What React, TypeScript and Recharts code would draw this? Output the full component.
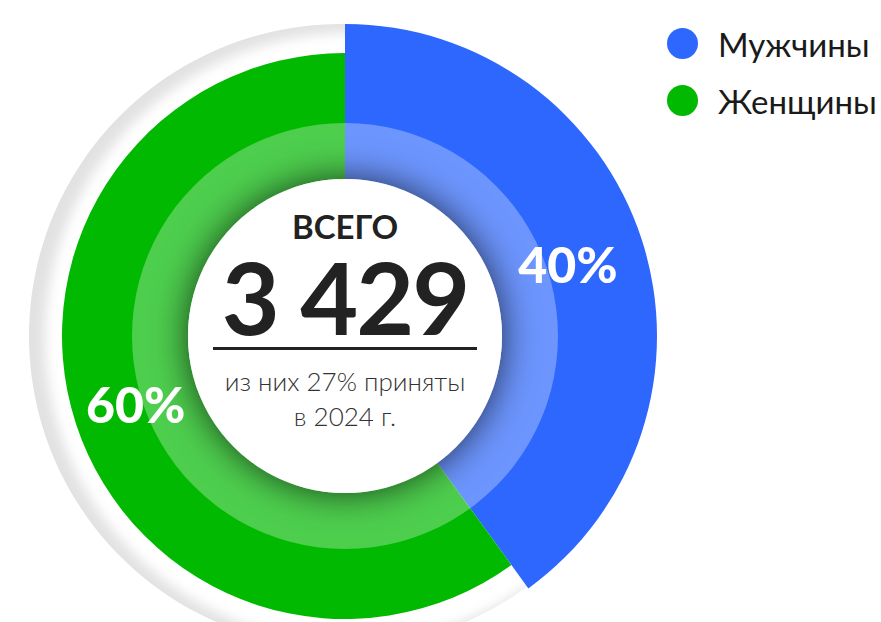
import { Cell, Legend, Pie, PieChart } from 'recharts';

const categories = ['Мужчины', 'Женщины'];
const shares = [40, 60];
const colors = ['#2D67FE', '#00B900'];
const totalLabel = 'ВСЕГО';
const totalValue = '3 429';
const noteLines = ['из них 27% приняты', 'в 2024 г.'];

const data = categories.map((name, i) => ({ name, value: shares[i] }));
const whole = [{ name: 'all', value: 1 }];

const CX = 345;
const CY = 336;
const HOLE = 157;
const RING = 213;
const OUTER = [312, 283];
const FONT = 'Lato, "Open Sans", sans-serif';
const RAD = Math.PI / 180;

const renderPercent = (props: any) => {
  const { cx, cy, midAngle, index, percent } = props;
  const r = (HOLE + OUTER[index]) / 2;
  const x = cx + r * Math.cos(-midAngle * RAD);
  const y = cy + r * Math.sin(-midAngle * RAD);
  return (
    <g key={`pct-${index}`}>
      <text
        x={x}
        y={y}
        fill="#fff"
        fontFamily={FONT}
        fontWeight={900}
        fontSize={50}
        textAnchor="middle"
        dominantBaseline="central"
      >
        {`${Math.round(percent * 100)}%`}
      </text>
      {index === 1 && (
        <g fontFamily={FONT} fill="#222" textAnchor="middle">
          <text x={cx} y={cy - 97} fontSize={33} fontWeight={700}>
            {totalLabel}
          </text>
          <text x={cx} y={cy - 1} fontSize={100} fontWeight={700} letterSpacing={-2}>
            {totalValue}
          </text>
          <rect x={cx - 132} y={cy + 11} width={264} height={3} fill="#222" />
          <text x={cx} y={cy + 55} fontSize={26} fontWeight={300} fill="#333">
            {noteLines[0]}
          </text>
          <text x={cx} y={cy + 90} fontSize={26} fontWeight={300} fill="#333">
            {noteLines[1]}
          </text>
        </g>
      )}
    </g>
  );
};

const LegendContent = () => (
  <div style={{ fontFamily: FONT }}>
    {categories.map((name, i) => (
      <div
        key={name}
        style={{ display: 'flex', alignItems: 'center', height: 57, fontSize: 33, color: '#1a1a1a', fontWeight: 400 }}
      >
        <span
          style={{
            width: 31,
            height: 31,
            borderRadius: '50%',
            background: colors[i],
            marginRight: 20,
            display: 'inline-block',
          }}
        />
        {name}
      </div>
    ))}
  </div>
);

export default function App() {
  return (
    <div style={{ position: 'absolute', left: 0, top: 0, background: '#fff' }}>
      <PieChart width={881} height={622} margin={{ top: 0, right: 0, bottom: 0, left: 0 }}>
        <defs>
          <filter id="soft" x="-20%" y="-20%" width="140%" height="140%">
            <feGaussianBlur stdDeviation="6" />
          </filter>
          <filter id="holeShadow" x="-50%" y="-50%" width="200%" height="200%">
            <feDropShadow dx="0" dy="0" stdDeviation="18" floodColor="#000" floodOpacity="0.7" />
          </filter>
        </defs>
        <Legend
          verticalAlign="top"
          align="right"
          layout="vertical"
          content={<LegendContent />}
          wrapperStyle={{ top: 15, left: 667, width: 220 }}
        />
        {/* faint backdrop disc, shadow falls to the left */}
        <Pie
          data={whole}
          dataKey="value"
          cx={CX - 4}
          cy={CY}
          outerRadius={312}
          innerRadius={0}
          stroke="none"
          fill="#e2e2e2"
          isAnimationActive={false}
        />
        <Pie
          data={whole}
          dataKey="value"
          cx={CX + 5}
          cy={CY + 2}
          outerRadius={305}
          innerRadius={0}
          stroke="none"
          fill="#fff"
          isAnimationActive={false}
        >
          <Cell fill="#fff" filter="url(#soft)" />
        </Pie>
        <Pie
          data={data}
          dataKey="value"
          cx={CX}
          cy={CY}
          startAngle={90}
          endAngle={-270}
          innerRadius={HOLE}
          outerRadius={OUTER[0]}
          stroke="none"
          isAnimationActive={false}
        >
          <Cell fill={colors[0]} />
          <Cell fill="transparent" />
        </Pie>
        <Pie
          data={data}
          dataKey="value"
          cx={CX}
          cy={CY}
          startAngle={90}
          endAngle={-270}
          innerRadius={HOLE}
          outerRadius={OUTER[1]}
          stroke="none"
          isAnimationActive={false}
        >
          <Cell fill="transparent" />
          <Cell fill={colors[1]} />
        </Pie>
        {/* lighter inner ring */}
        <Pie
          data={whole}
          dataKey="value"
          cx={CX}
          cy={CY}
          innerRadius={HOLE}
          outerRadius={RING}
          stroke="none"
          fill="#fff"
          fillOpacity={0.3}
          isAnimationActive={false}
        />
        {/* white centre */}
        <Pie
          data={whole}
          dataKey="value"
          cx={CX}
          cy={CY}
          innerRadius={0}
          outerRadius={HOLE}
          stroke="none"
          isAnimationActive={false}
        >
          <Cell fill="#fff" filter="url(#holeShadow)" />
        </Pie>
        {/* labels on top */}
        <Pie
          data={data}
          dataKey="value"
          cx={CX}
          cy={CY}
          startAngle={90}
          endAngle={-270}
          innerRadius={HOLE}
          outerRadius={OUTER[1]}
          fill="transparent"
          stroke="none"
          label={renderPercent}
          labelLine={false}
          isAnimationActive={false}
        />
      </PieChart>
    </div>
  );
}
